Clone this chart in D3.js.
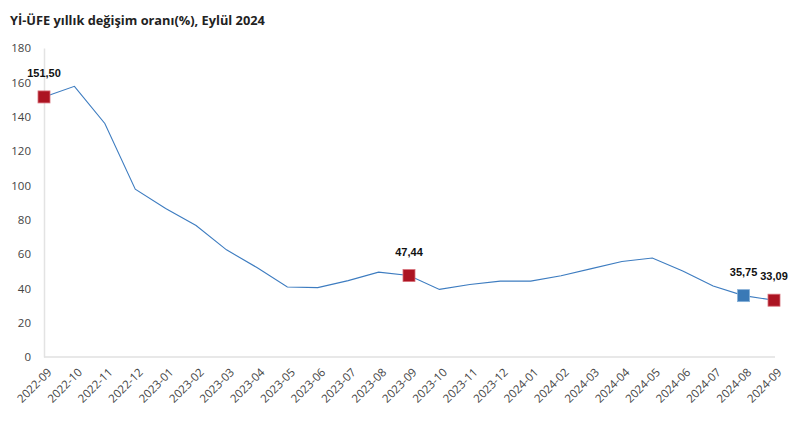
<!DOCTYPE html>
<html>
<head>
<meta charset="utf-8">
<script src="https://cdn.jsdelivr.net/npm/d3@7"></script>
<style>
  body { margin: 0; background: #fff; }
  svg { display: block; font-family: "Open Sans", "Noto Sans", sans-serif; }
</style>
</head>
<body>
<div id="chart"></div>
<script>
const months = ["2022-09","2022-10","2022-11","2022-12","2023-01","2023-02","2023-03","2023-04",
  "2023-05","2023-06","2023-07","2023-08","2023-09","2023-10","2023-11","2023-12","2024-01",
  "2024-02","2024-03","2024-04","2024-05","2024-06","2024-07","2024-08","2024-09"];
const rates = [151.50,157.69,136.02,97.72,86.46,76.61,62.43,52.11,40.76,40.42,44.50,49.41,47.44,
  39.39,42.25,44.22,44.20,47.29,51.47,55.66,57.68,50.09,41.37,35.75,33.09];
const yTicks = [0,20,40,60,80,100,120,140,160,180];
// highlighted points: month -> marker colour
const redMarks = ["2022-09","2023-09","2024-09"];
const blueMarks = ["2024-08"];

const width = 805, height = 441;
const marginLeft = 44, marginRight = 31, marginTop = 48, marginBottom = 84;

const svg = d3.select("#chart").append("svg")
    .attr("width", width)
    .attr("height", height)
    .attr("viewBox", [0, 0, width, height]);

const x = d3.scalePoint(months, [marginLeft, width - marginRight]);
const y = d3.scaleLinear([0, 180], [height - marginBottom, marginTop]);

svg.append("text")
    .attr("x", 10)
    .attr("y", 25)
    .attr("font-size", 12.8)
    .attr("font-weight", "bold")
    .attr("fill", "#222")
    .text("Yİ-ÜFE yıllık değişim oranı(%), Eylül 2024");

// y axis
svg.append("g")
    .attr("transform", `translate(${marginLeft},0)`)
    .call(d3.axisLeft(y).tickValues(yTicks).tickSize(0).tickPadding(13))
    .call(g => g.select(".domain").attr("stroke", "#e3e3e3").attr("stroke-width", 1.5))
    .call(g => g.selectAll("text").attr("font-size", 11.5).attr("fill", "#444")
        .attr("font-family", "Open Sans, sans-serif"));

// x axis
svg.append("g")
    .attr("transform", `translate(0,${height - marginBottom})`)
    .call(d3.axisBottom(x).tickSize(0).tickPadding(0))
    .call(g => g.select(".domain").attr("stroke", "#e0e0e0").attr("stroke-width", 1.5)
        .attr("d", `M${marginLeft},0H${width - marginRight + 1}`))
    .call(g => g.selectAll("text")
        .attr("font-size", 11.5).attr("fill", "#444")
        .attr("font-family", "Open Sans, sans-serif")
        .attr("text-anchor", "end")
        .attr("dy", 0)
        .attr("transform", "translate(8,16) rotate(-45)"));

const data = months.map((m, i) => ({m, v: rates[i]}));

svg.append("path")
    .datum(data)
    .attr("fill", "none")
    .attr("stroke", "#3d7cc0")
    .attr("stroke-width", 1.1)
    .attr("d", d3.line().x(d => x(d.m)).y(d => y(d.v)));

const marked = data.filter(d => redMarks.includes(d.m) || blueMarks.includes(d.m));
const s = 12;

svg.append("g")
    .selectAll("rect")
    .data(marked)
    .join("rect")
    .attr("x", d => x(d.m) - s / 2)
    .attr("y", d => y(d.v) - s / 2)
    .attr("width", s)
    .attr("height", s)
    .attr("fill", d => redMarks.includes(d.m) ? "#ac1422" : "#3a79b6")
    .attr("stroke", d => redMarks.includes(d.m) ? "#d8707a" : "#86b0d8")
    .attr("stroke-width", 0.8);

svg.append("g")
    .attr("font-size", 11)
    .attr("font-weight", "bold")
    .attr("fill", "#111")
    .attr("text-anchor", "middle")
    .attr("font-family", "Liberation Sans, Arial, sans-serif")
    .selectAll("text")
    .data(marked)
    .join("text")
    .attr("x", d => x(d.m))
    .attr("y", d => y(d.v) - 20)
    .text(d => d3.format(".2f")(d.v).replace(".", ","));
</script>
</body>
</html>
